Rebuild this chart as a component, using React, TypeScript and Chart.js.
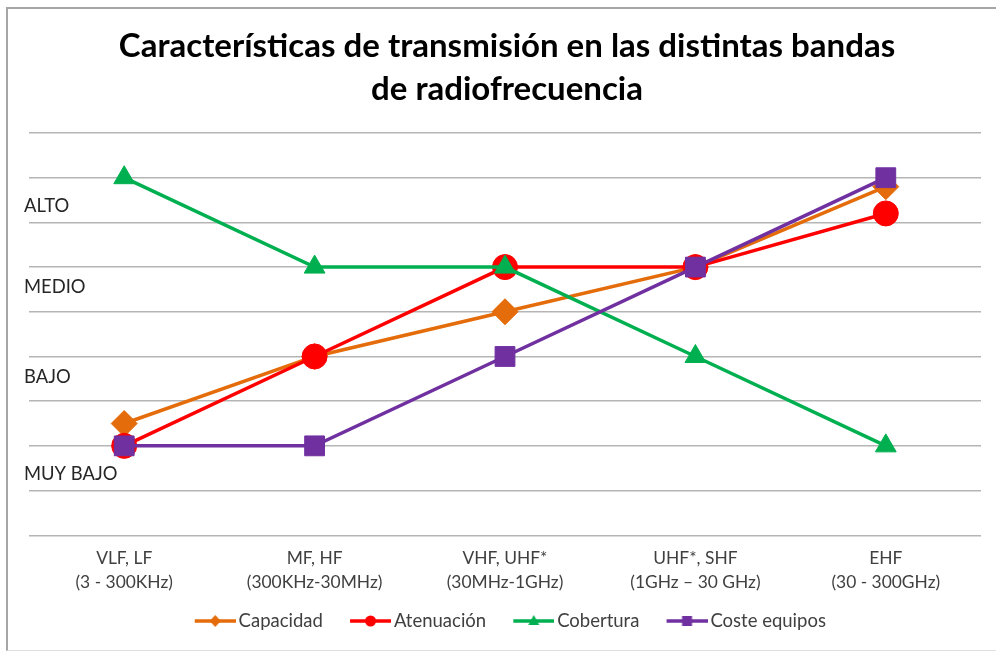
import React, { useEffect, useRef } from "react";
import { Chart, registerables } from "chart.js";

Chart.register(...registerables);

const titleLines = [
  "Características de transmisión en las distintas bandas",
  "de radiofrecuencia",
];
const categories = [
  ["VLF, LF", "(3 - 300KHz)"],
  ["MF, HF", "(300KHz-30MHz)"],
  ["VHF, UHF*", "(30MHz-1GHz)"],
  ["UHF*, SHF", "(1GHz – 30 GHz)"],
  ["EHF", "(30 - 300GHz)"],
];
const seriesNames = ["Capacidad", "Atenuación", "Cobertura", "Coste equipos"];
const capacidad = [2.5, 4, 5, 6, 7.8];
const atenuacion = [2, 4, 6, 6, 7.2];
const cobertura = [8, 6, 6, 4, 2];
const costeEquipos = [2, 2, 4, 6, 8];
const levelLabels = ["ALTO", "MEDIO", "BAJO", "MUY BAJO"];
const levelValues = [7.36, 5.55, 3.55, 1.37];
const yMin = 0;
const yMax = 9;

const COLORS = ["#E46C0A", "#FF0000", "#00B050", "#7030A0"];
const STYLES = ["rectRot", "circle", "triangle", "rect"];
const RADII = [13, 12.5, 12, 14];

function legendImage(color: string, style: string): HTMLCanvasElement {
  const c = document.createElement("canvas");
  c.width = 68;
  c.height = 20;
  const ctx = c.getContext("2d")!;
  ctx.strokeStyle = color;
  ctx.fillStyle = color;
  ctx.lineWidth = 3.5;
  ctx.beginPath();
  ctx.moveTo(27, 10);
  ctx.lineTo(68, 10);
  ctx.stroke();
  const cx = 47.5;
  const cy = 10;
  ctx.beginPath();
  if (style === "rectRot") {
    ctx.moveTo(cx - 5.5, cy);
    ctx.lineTo(cx, cy - 6);
    ctx.lineTo(cx + 5.5, cy);
    ctx.lineTo(cx, cy + 6);
    ctx.closePath();
  } else if (style === "circle") {
    ctx.arc(cx, cy, 5.5, 0, Math.PI * 2);
  } else if (style === "triangle") {
    ctx.moveTo(cx, cy - 6);
    ctx.lineTo(cx + 5.5, cy + 4);
    ctx.lineTo(cx - 5.5, cy + 4);
    ctx.closePath();
  } else {
    ctx.rect(cx - 5, cy - 5, 10, 10);
  }
  ctx.fill();
  return c;
}

const levelLabelPlugin = {
  id: "levelLabels",
  afterDraw(chart: any) {
    const ctx = chart.ctx;
    const y = chart.scales.y;
    ctx.save();
    ctx.font = "18.4px Lato";
    ctx.fillStyle = "#262626";
    ctx.textAlign = "left";
    ctx.textBaseline = "middle";
    levelLabels.forEach((t, i) => {
      ctx.fillText(t, 16, y.getPixelForValue(levelValues[i]));
    });
    ctx.restore();
  },
};

const legendShiftPlugin = {
  id: "legendShift",
  afterLayout(chart: any) {
    if (chart.legend) {
      chart.legend.left -= 7;
      chart.legend.right -= 7;
    }
  },
};

export default function App() {
  const ref = useRef<HTMLCanvasElement>(null);

  useEffect(() => {
    if (!ref.current) return;
    const seriesData = [capacidad, atenuacion, cobertura, costeEquipos];
    const images = COLORS.map((c, i) => legendImage(c, STYLES[i]));
    const chart = new Chart(ref.current, {
      type: "line",
      data: {
        labels: categories,
        datasets: seriesNames.map((name, i) => ({
          label: name,
          data: seriesData[i],
          borderColor: COLORS[i],
          backgroundColor: COLORS[i],
          pointBackgroundColor: COLORS[i],
          pointBorderColor: COLORS[i],
          borderWidth: 3.5,
          pointStyle: STYLES[i] as any,
          pointRadius: RADII[i],
          pointHoverRadius: RADII[i],
          pointBorderWidth: 1,
          tension: 0,
          order: 3 - i,
          clip: false as any,
        })),
      },
      options: {
        responsive: false,
        animation: false,
        layout: { padding: { left: 21, right: 11, top: 0, bottom: 9.75 } },
        plugins: {
          tooltip: { enabled: false },
          title: {
            display: true,
            text: titleLines,
            color: "#000000",
            font: { family: "Lato", size: 33, weight: "bold", lineHeight: 43 / 33 },
            padding: { top: 16, bottom: 22 },
          },
          legend: {
            display: true,
            position: "bottom",
            labels: {
              usePointStyle: true,
              pointStyleWidth: 55.25,
              padding: 6.5,
              color: "#404040",
              font: { family: "Lato", size: 18.5 },
              generateLabels: (ch: any) =>
                ch.data.datasets.map((ds: any, i: number) => ({
                  text: ds.label,
                  fillStyle: COLORS[i],
                  strokeStyle: COLORS[i],
                  lineWidth: 0,
                  pointStyle: images[i],
                  hidden: false,
                  datasetIndex: i,
                  fontColor: "#404040",
                })),
            },
          },
        },
        scales: {
          x: {
            type: "category",
            offset: true,
            grid: { display: false, drawTicks: false },
            border: { display: false },
            ticks: {
              padding: 11,
              color: "#404040",
              maxRotation: 0,
              autoSkip: false,
              font: { family: "Lato", size: 17.4, lineHeight: 24 / 17.4 },
            },
          },
          y: {
            min: yMin,
            max: yMax,
            grid: { color: "#b5b5b5", lineWidth: 1.5, drawTicks: false },
            border: { display: false },
            ticks: { display: false, stepSize: 1 },
          },
        },
      },
      plugins: [levelLabelPlugin, legendShiftPlugin],
    });
    return () => chart.destroy();
  }, []);

  return (
    <div
      style={{
        position: "absolute",
        left: 6,
        top: 7,
        width: 990,
        height: 644,
        boxSizing: "border-box",
        borderLeft: "2px solid #a6a6a6",
        borderTop: "2px solid #a6a6a6",
        borderBottom: "1px solid #e0e0e0",
        background: "#ffffff",
        overflow: "hidden",
      }}
    >
      <canvas ref={ref} width={988} height={641} style={{ display: "block" }} />
    </div>
  );
}
